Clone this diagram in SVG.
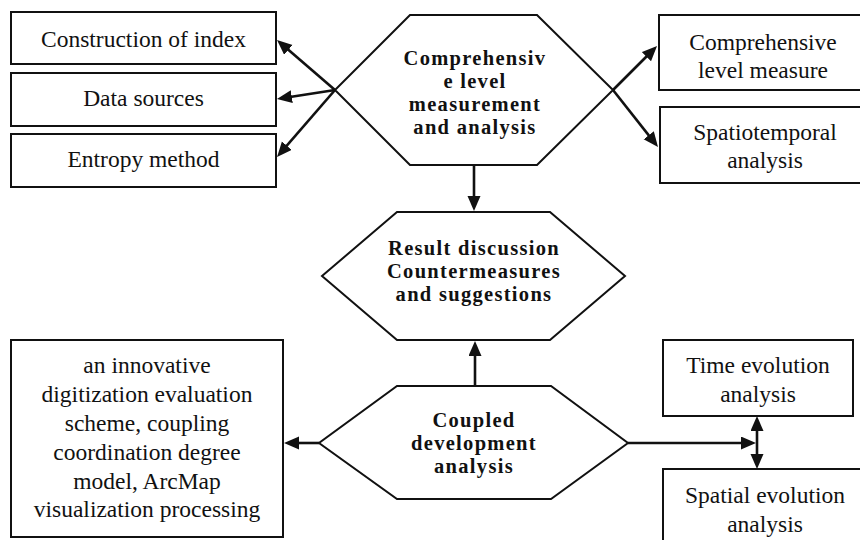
<svg xmlns="http://www.w3.org/2000/svg" width="860" height="540" viewBox="0 0 860 540">
<defs>
<style>
.box{fill:#fff;stroke:#111;stroke-width:2}
.hex{fill:#fff;stroke:#111;stroke-width:2;stroke-linejoin:miter}
.t{font-family:"Liberation Serif","Times New Roman",serif;font-size:23.5px;fill:#111;text-anchor:middle}
.b{font-family:"Liberation Serif","Times New Roman",serif;font-size:20.5px;font-weight:bold;letter-spacing:1.3px;fill:#111;text-anchor:middle}
.arr{stroke:#111;stroke-width:2.6;fill:none;marker-end:url(#ah)}
</style>
<marker id="ah" markerUnits="userSpaceOnUse" markerWidth="16" markerHeight="14" refX="10" refY="6.5" orient="auto">
<path d="M0,0 L15,6.5 L0,13 Z" fill="#111"/>
</marker>
</defs>
<rect width="860" height="540" fill="#fff"/>
<g id="connectors">
<line class="arr" x1="335" y1="90" x2="280.8" y2="43.3"/>
<line class="arr" x1="335" y1="90" x2="281.9" y2="98.2"/>
<line class="arr" x1="335" y1="90" x2="280.3" y2="153.2"/>
<line class="arr" x1="613" y1="90" x2="653.5" y2="49.5"/>
<line class="arr" x1="613" y1="90" x2="654.9" y2="143.1"/>
<line class="arr" x1="474" y1="165" x2="474" y2="206"/>
<line class="arr" x1="475" y1="386" x2="475" y2="346"/>
<line class="arr" x1="319" y1="443" x2="289" y2="443"/>
<line class="arr" x1="628" y1="443" x2="751" y2="443"/>
<line class="arr" x1="757" y1="443" x2="757" y2="421"/>
<line class="arr" x1="757" y1="443" x2="757" y2="464"/>
</g>
<g id="n-construction">
<rect class="box" x="11" y="12" width="265" height="52"/>
<text class="t" x="143.5" y="46.5">Construction of index</text>
</g>
<g id="n-data">
<rect class="box" x="11" y="73" width="265" height="53"/>
<text class="t" x="143.5" y="106">Data sources</text>
</g>
<g id="n-entropy">
<rect class="box" x="11" y="134" width="265" height="53"/>
<text class="t" x="143.5" y="166.5">Entropy method</text>
</g>
<g id="n-comprehensive">
<polygon class="hex" points="410,15 537,15 613,90 537,165 410,165 335,90"/>
<text class="b" x="475" y="65">Comprehensiv</text>
<text class="b" x="475" y="88">e level</text>
<text class="b" x="475" y="110.5">measurement</text>
<text class="b" x="475" y="133.5">and analysis</text>
</g>
<g id="n-level-measure">
<rect class="box" x="659" y="15" width="210" height="75"/>
<text class="t" x="763" y="50">Comprehensive</text>
<text class="t" x="763" y="77.5">level measure</text>
</g>
<g id="n-spatiotemporal">
<rect class="box" x="660" y="107" width="210" height="76"/>
<text class="t" x="765" y="140">Spatiotemporal</text>
<text class="t" x="765" y="168">analysis</text>
</g>
<g id="n-result">
<polygon class="hex" points="397,212 550,212 625,276 550,340 397,340 322,276"/>
<text class="b" x="474" y="255">Result discussion</text>
<text class="b" x="474" y="278">Countermeasures</text>
<text class="b" x="474" y="301">and suggestions</text>
</g>
<g id="n-coupled">
<polygon class="hex" points="397,386 551,386 628,443 551,499 397,499 319,443"/>
<text class="b" x="474" y="427">Coupled</text>
<text class="b" x="474" y="450">development</text>
<text class="b" x="474" y="473">analysis</text>
</g>
<g id="n-methods">
<rect class="box" x="11" y="340" width="272" height="197"/>
<text class="t" x="147" y="373">an innovative</text>
<text class="t" x="147" y="402">digitization evaluation</text>
<text class="t" x="147" y="431">scheme, coupling</text>
<text class="t" x="147" y="460">coordination degree</text>
<text class="t" x="147" y="489">model, ArcMap</text>
<text class="t" x="147" y="517">visualization processing</text>
</g>
<g id="n-time">
<rect class="box" x="663" y="340" width="190" height="76"/>
<text class="t" x="758" y="373">Time evolution</text>
<text class="t" x="758" y="402">analysis</text>
</g>
<g id="n-spatial">
<rect class="box" x="663" y="469" width="210" height="90"/>
<text class="t" x="765" y="503">Spatial evolution</text>
<text class="t" x="765" y="532">analysis</text>
</g>
</svg>
